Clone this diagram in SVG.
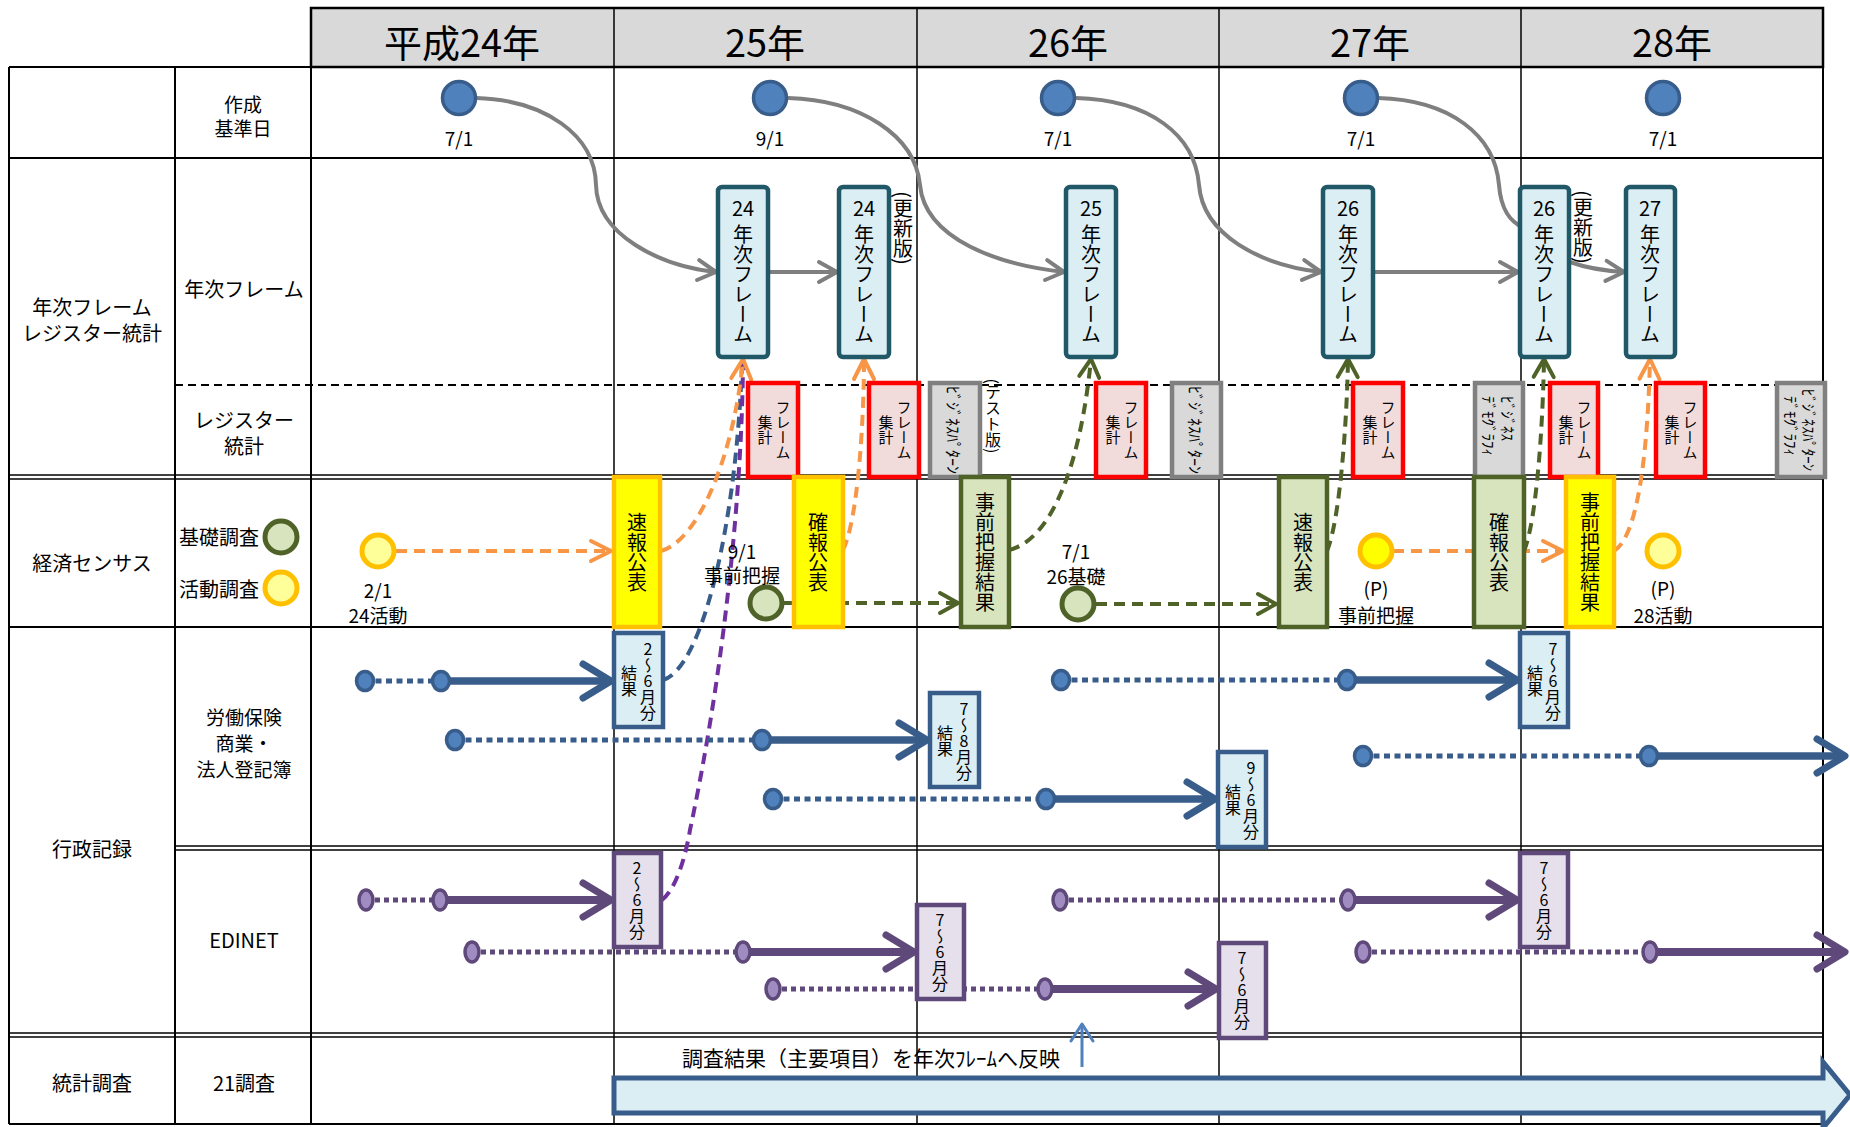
<svg xmlns="http://www.w3.org/2000/svg" width="1850" height="1127" viewBox="0 0 1850 1127">
<defs>
<style>
text{font-family:"Noto Sans CJK JP","Noto Sans",sans-serif;fill:#000;}
.c{text-anchor:middle;dominant-baseline:central;}
.v{writing-mode:vertical-rl;text-anchor:middle;}
.vs{writing-mode:vertical-rl;text-anchor:start;}
.vu{writing-mode:vertical-rl;text-orientation:upright;text-anchor:middle;}
.f38{font-size:38px;}
.f21{font-size:21px;}
.f20{font-size:20px;}
.f19{font-size:19px;}
.f16{font-size:16px;}
.f15{font-size:15px;}
.ln{stroke:#000;stroke-width:2;fill:none;}
.ln1{stroke:#000;stroke-width:1.5;fill:none;}
.dash{stroke:#000;stroke-width:2;stroke-dasharray:8 5;fill:none;}
.fr{fill:#dbeef4;stroke:#215868;stroke-width:4.5;}
.rb{fill:#f2dcdb;stroke:#ff0000;stroke-width:4.5;}
.gb{fill:#d9d9d9;stroke:#808080;stroke-width:4.5;}
.yb{fill:#ffff00;stroke:#ffc000;stroke-width:4.5;}
.grb{fill:#d7e4bd;stroke:#4f6228;stroke-width:4.5;}
.bb{fill:#dbeef4;stroke:#385d8a;stroke-width:4.5;}
.pb{fill:#e5e0ec;stroke:#5f497a;stroke-width:4.5;}
.bc{fill:#4f81bd;stroke:#385d8a;stroke-width:3.5;}
.gc{fill:#d7e4bd;stroke:#4f6228;stroke-width:5;}
.yc{fill:#ffff99;stroke:#ffc000;stroke-width:5;}
.ycb{fill:#ffff00;stroke:#ffc000;stroke-width:5;}
.gray{fill:none;stroke:#7f7f7f;stroke-width:4;}
.ga{marker-end:url(#mGray);}
.od{fill:none;stroke:#f79646;stroke-width:4;stroke-dasharray:11 7;marker-end:url(#mOr);}
.gd{fill:none;stroke:#4f6228;stroke-width:4;stroke-dasharray:11 7;marker-end:url(#mGr);}
.bd{fill:none;stroke:#385d8a;stroke-width:4;stroke-dasharray:11 7;}
.pd{fill:none;stroke:#7030a0;stroke-width:4;stroke-dasharray:11 7;}
.bdot{stroke:#385d8a;stroke-width:5;stroke-dasharray:6 4.5;}
.bsol{stroke:#385d8a;stroke-width:7.5;marker-end:url(#mBl);}
.bsc{fill:#4f81bd;stroke:#385d8a;stroke-width:3.5;}
.pdot{stroke:#5f497a;stroke-width:5;stroke-dasharray:5 4;}
.psol{stroke:#5f497a;stroke-width:8;marker-end:url(#mPu);}
.psc{fill:#a08cc0;stroke:#5f497a;stroke-width:3.5;}
</style>
<marker id="mGray" markerUnits="userSpaceOnUse" markerWidth="30" markerHeight="30" viewBox="-4 -4 30 30" refX="20" refY="11" orient="auto" overflow="visible"><path d="M2,1 L20,11 L2,21" fill="none" stroke="#7f7f7f" stroke-width="4" stroke-linecap="round" stroke-linejoin="round"/></marker>
<marker id="mOr" markerUnits="userSpaceOnUse" markerWidth="30" markerHeight="30" viewBox="-4 -4 30 30" refX="21" refY="11" orient="auto" overflow="visible"><path d="M1,1 L21,11 L1,21" fill="none" stroke="#f79646" stroke-width="4" stroke-linecap="round" stroke-linejoin="round"/></marker>
<marker id="mGr" markerUnits="userSpaceOnUse" markerWidth="30" markerHeight="30" viewBox="-4 -4 30 30" refX="19" refY="11" orient="auto" overflow="visible"><path d="M1,1 L19,11 L1,21" fill="none" stroke="#4f6228" stroke-width="4" stroke-linecap="round" stroke-linejoin="round"/></marker>
<marker id="mBl" markerUnits="userSpaceOnUse" markerWidth="46" markerHeight="46" viewBox="-6 -6 46 46" refX="30" refY="19" orient="auto" overflow="visible"><path d="M2,2 L30,19 L2,36" fill="none" stroke="#385d8a" stroke-width="7" stroke-linecap="round" stroke-linejoin="round"/></marker>
<marker id="mPu" markerUnits="userSpaceOnUse" markerWidth="46" markerHeight="46" viewBox="-6 -6 46 46" refX="30" refY="19" orient="auto" overflow="visible"><path d="M2,2 L30,19 L2,36" fill="none" stroke="#5f497a" stroke-width="7" stroke-linecap="round" stroke-linejoin="round"/></marker>
<marker id="mUp" markerUnits="userSpaceOnUse" markerWidth="30" markerHeight="30" viewBox="-4 -4 30 30" refX="18" refY="12" orient="auto" overflow="visible"><path d="M1,1 L18,12 L1,23" fill="none" stroke="#4f81bd" stroke-width="3" stroke-linecap="round" stroke-linejoin="round"/></marker>
<clipPath id="clipG1"><rect x="932" y="385" width="46" height="90"/></clipPath>
<clipPath id="clipG2"><rect x="1174" y="385" width="45" height="90"/></clipPath>
<clipPath id="clipG4"><rect x="1779" y="385" width="44" height="90"/></clipPath>
</defs>

<g id="grid">
<rect x="311" y="8" width="1512" height="59" fill="#d9d9d9" stroke="#000" stroke-width="2.5"/>
<line class="ln" x1="9" y1="67" x2="9" y2="1124"/>
<line class="ln" x1="175" y1="67" x2="175" y2="1124"/>
<line class="ln" x1="311" y1="67" x2="311" y2="1124"/>
<line class="ln1" x1="614" y1="8" x2="614" y2="1124"/>
<line class="ln1" x1="917" y1="8" x2="917" y2="1124"/>
<line class="ln1" x1="1219" y1="8" x2="1219" y2="1124"/>
<line class="ln1" x1="1521" y1="8" x2="1521" y2="1124"/>
<line class="ln" x1="1823" y1="8" x2="1823" y2="1124" stroke-width="2.5"/>
<line class="ln" x1="9" y1="67" x2="1823" y2="67" stroke-width="2.5"/>
<line class="ln" x1="9" y1="158" x2="1823" y2="158"/>
<line class="dash" x1="175" y1="385" x2="1823" y2="385"/>
<line class="ln1" x1="9" y1="475" x2="1823" y2="475"/>
<line class="ln1" x1="9" y1="479" x2="1823" y2="479"/>
<line class="ln" x1="9" y1="627" x2="1823" y2="627"/>
<line class="ln1" x1="175" y1="846" x2="1823" y2="846"/>
<line class="ln1" x1="175" y1="850" x2="1823" y2="850"/>
<line class="ln1" x1="9" y1="1033" x2="1823" y2="1033"/>
<line class="ln1" x1="9" y1="1037" x2="1823" y2="1037"/>
<line class="ln" x1="9" y1="1124" x2="1823" y2="1124"/>
</g>

<g id="labels">
<text class="c f38" x="462" y="40">平成24年</text>
<text class="c f38" x="765" y="40">25年</text>
<text class="c f38" x="1068" y="40">26年</text>
<text class="c f38" x="1370" y="40">27年</text>
<text class="c f38" x="1672" y="40">28年</text>
<text class="c f19" x="243" y="103">作成</text>
<text class="c f19" x="243" y="127">基準日</text>
<text class="c f20" x="92" y="306">年次フレーム</text>
<text class="c f20" x="92" y="332">レジスター統計</text>
<text class="c f20" x="244" y="288">年次フレーム</text>
<text class="c f20" x="244" y="419">レジスター</text>
<text class="c f20" x="244" y="445">統計</text>
<text class="c f20" x="92" y="562">経済センサス</text>
<text class="c f20" x="219" y="536">基礎調査</text>
<text class="c f20" x="219" y="588">活動調査</text>
<text class="c f20" x="92" y="848">行政記録</text>
<text class="c f19" x="244" y="716">労働保険</text>
<text class="c f19" x="244" y="742">商業・</text>
<text class="c f19" x="244" y="768">法人登記簿</text>
<text class="c f20" x="244" y="939">EDINET</text>
<text class="c f20" x="92" y="1082">統計調査</text>
<text class="c f20" x="244" y="1082">21調査</text>
<text class="f21" x="682" y="1057" dominant-baseline="central">調査結果（主要項目）を年次ﾌﾚｰﾑへ反映</text>
</g>

<g id="connectors">
<path class="gray ga" d="M476,98 C545,100 595,135 596,185 C597,235 660,266 716,272"/>
<path class="gray ga" d="M768,272 H837"/>
<path class="gray ga" d="M788,98 C860,100 915,135 920,185 C925,240 1000,265 1064,272"/>
<path class="gray ga" d="M1076,98 C1150,100 1195,135 1199,185 C1203,235 1260,265 1321,272"/>
<path class="gray ga" d="M1373,272 H1518"/>
<path class="gray" d="M1378,98 C1450,100 1495,135 1499,185 C1501,210 1510,222 1524,228"/>
<path class="gray ga" d="M1570,262 Q1592,270 1624,272"/>
<path class="od" d="M396,551 H611"/>
<path class="gd" d="M784,603 H958"/>
<path class="gd" d="M1096,604 H1276"/>
<path class="od" d="M1393,551 H1563"/>
<path class="bd" d="M663,680 C703,668 737,520 742,362"/>
<path class="pd" d="M662,900 C675,890 685,860 690,830 C722,680 742,500 743,362"/>
<path class="od" d="M661,551 C700,540 735,450 743,359"/>
<path class="od" d="M843,550 C858,520 864,420 864,359"/>
<path class="gd" d="M1009,550 C1050,540 1080,470 1091,359"/>
<path class="gd" d="M1327,551 C1340,520 1347,420 1348,359"/>
<path class="gd" d="M1524,551 C1537,520 1543,420 1544,359"/>
<path class="od" d="M1614,551 C1640,535 1648,440 1650,359"/>
<line class="bdot" x1="365" y1="681" x2="441" y2="681"/><line class="bsol" x1="441" y1="681" x2="611" y2="681"/>
<line class="bdot" x1="455" y1="740" x2="762" y2="740"/><line class="bsol" x1="762" y1="740" x2="927" y2="740"/>
<line class="bdot" x1="773" y1="799" x2="1046" y2="799"/><line class="bsol" x1="1046" y1="799" x2="1215" y2="799"/>
<line class="bdot" x1="1061" y1="680" x2="1347" y2="680"/><line class="bsol" x1="1347" y1="680" x2="1517" y2="680"/>
<line class="bdot" x1="1363" y1="756" x2="1649" y2="756"/><line class="bsol" x1="1649" y1="756" x2="1845" y2="756"/>
<line class="pdot" x1="366" y1="900" x2="440" y2="900"/><line class="psol" x1="440" y1="900" x2="611" y2="900"/>
<line class="pdot" x1="472" y1="952" x2="743" y2="952"/><line class="psol" x1="743" y1="952" x2="914" y2="952"/>
<line class="pdot" x1="773" y1="989" x2="1045" y2="989"/><line class="psol" x1="1045" y1="989" x2="1216" y2="989"/>
<line class="pdot" x1="1060" y1="900" x2="1348" y2="900"/><line class="psol" x1="1348" y1="900" x2="1517" y2="900"/>
<line class="pdot" x1="1363" y1="952" x2="1650" y2="952"/><line class="psol" x1="1650" y1="952" x2="1845" y2="952"/>
<ellipse class="bsc" cx="365" cy="681" rx="8.5" ry="9.5"/><ellipse class="bsc" cx="441" cy="681" rx="8.5" ry="9.5"/>
<ellipse class="bsc" cx="455" cy="740" rx="8.5" ry="9.5"/><ellipse class="bsc" cx="762" cy="740" rx="8.5" ry="9.5"/>
<ellipse class="bsc" cx="773" cy="799" rx="8.5" ry="9.5"/><ellipse class="bsc" cx="1046" cy="799" rx="8.5" ry="9.5"/>
<ellipse class="bsc" cx="1061" cy="680" rx="8.5" ry="9.5"/><ellipse class="bsc" cx="1347" cy="680" rx="8.5" ry="9.5"/>
<ellipse class="bsc" cx="1363" cy="756" rx="8.5" ry="9.5"/><ellipse class="bsc" cx="1649" cy="756" rx="8.5" ry="9.5"/>
<ellipse class="psc" cx="366" cy="900" rx="7" ry="10"/><ellipse class="psc" cx="440" cy="900" rx="7" ry="10"/>
<ellipse class="psc" cx="472" cy="952" rx="7" ry="10"/><ellipse class="psc" cx="743" cy="952" rx="7" ry="10"/>
<ellipse class="psc" cx="773" cy="989" rx="7" ry="10"/><ellipse class="psc" cx="1045" cy="989" rx="7" ry="10"/>
<ellipse class="psc" cx="1060" cy="900" rx="7" ry="10"/><ellipse class="psc" cx="1348" cy="900" rx="7" ry="10"/>
<ellipse class="psc" cx="1363" cy="952" rx="7" ry="10"/><ellipse class="psc" cx="1650" cy="952" rx="7" ry="10"/>
<line x1="1082" y1="1067" x2="1082" y2="1024" stroke="#4f81bd" stroke-width="3" marker-end="url(#mUp)"/>
</g>

<g id="date1"><circle class="bc" cx="459" cy="98" r="16.5"/><text class="c f19" x="459" y="137">7/1</text></g>
<g id="date2"><circle class="bc" cx="770" cy="98" r="16.5"/><text class="c f19" x="770" y="137">9/1</text></g>
<g id="date3"><circle class="bc" cx="1058" cy="98" r="16.5"/><text class="c f19" x="1058" y="137">7/1</text></g>
<g id="date4"><circle class="bc" cx="1361" cy="98" r="16.5"/><text class="c f19" x="1361" y="137">7/1</text></g>
<g id="date5"><circle class="bc" cx="1663" cy="98" r="16.5"/><text class="c f19" x="1663" y="137">7/1</text></g>

<g id="frame24"><rect class="fr" x="718" y="187" width="50" height="170" rx="4"/><text class="c f20" x="743" y="207">24</text><text class="v f20" x="743" y="284">年次フレーム</text></g>
<g id="frame24u"><rect class="fr" x="839" y="187" width="50" height="170" rx="4"/><text class="c f20" x="864" y="207">24</text><text class="v f20" x="864" y="284">年次フレーム</text><text class="v f20" x="903" y="228">(更新版)</text></g>
<g id="frame25"><rect class="fr" x="1066" y="187" width="50" height="170" rx="4"/><text class="c f20" x="1091" y="207">25</text><text class="v f20" x="1091" y="284">年次フレーム</text></g>
<g id="frame26"><rect class="fr" x="1323" y="187" width="50" height="170" rx="4"/><text class="c f20" x="1348" y="207">26</text><text class="v f20" x="1348" y="284">年次フレーム</text></g>
<g id="frame26u"><rect class="fr" x="1520" y="187" width="49" height="170" rx="4"/><text class="c f20" x="1544" y="207">26</text><text class="v f20" x="1544" y="284">年次フレーム</text><text class="v f20" x="1583" y="227">(更新版)</text></g>
<g id="frame27"><rect class="fr" x="1626" y="187" width="49" height="170" rx="4"/><text class="c f20" x="1650" y="207">27</text><text class="v f20" x="1650" y="284">年次フレーム</text></g>

<g id="reg1"><rect class="rb" x="748" y="383" width="50" height="94"/><text class="v f15" x="783" y="430">フレーム</text><text class="v f15" x="765" y="430">集計</text></g>
<g id="reg2"><rect class="rb" x="869" y="383" width="50" height="94"/><text class="v f15" x="904" y="430">フレーム</text><text class="v f15" x="886" y="430">集計</text></g>
<g id="reg3"><rect class="rb" x="1096" y="383" width="50" height="94"/><text class="v f15" x="1131" y="430">フレーム</text><text class="v f15" x="1113" y="430">集計</text></g>
<g id="reg4"><rect class="rb" x="1353" y="383" width="50" height="94"/><text class="v f15" x="1388" y="430">フレーム</text><text class="v f15" x="1370" y="430">集計</text></g>
<g id="reg5"><rect class="rb" x="1550" y="383" width="48" height="94"/><text class="v f15" x="1584" y="430">フレーム</text><text class="v f15" x="1566" y="430">集計</text></g>
<g id="reg6"><rect class="rb" x="1656" y="383" width="49" height="94"/><text class="v f15" x="1690" y="430">フレーム</text><text class="v f15" x="1672" y="430">集計</text></g>

<g id="bp1"><rect class="gb" x="930" y="383" width="50" height="94"/><text class="v f16" x="954" y="430" clip-path="url(#clipG1)">ﾋﾞｼﾞﾈｽﾊﾟﾀｰﾝ</text><text class="v f16" x="993" y="416">(テスト版)</text></g>
<g id="bp2"><rect class="gb" x="1172" y="383" width="49" height="94"/><text class="v f16" x="1196" y="430" clip-path="url(#clipG2)">ﾋﾞｼﾞﾈｽﾊﾟﾀｰﾝ</text></g>
<g id="bd1"><rect class="gb" x="1475" y="383" width="48" height="94"/><text class="vs f15" x="1508" y="396">ﾋﾞｼﾞﾈｽ</text><text class="vs f15" x="1489" y="396">ﾃﾞﾓｸﾞﾗﾌｨ</text></g>
<g id="bpd"><rect class="gb" x="1777" y="383" width="48" height="94"/><text class="v f15" x="1809" y="430" clip-path="url(#clipG4)">ﾋﾞｼﾞﾈｽﾊﾟﾀｰﾝ</text><text class="vs f15" x="1791" y="396">ﾃﾞﾓｸﾞﾗﾌｨ</text></g>

<g id="legendBase"><circle class="gc" cx="281" cy="537" r="16"/></g>
<g id="legendAct"><circle class="yc" cx="281" cy="588" r="16"/></g>
<g id="act24"><circle class="yc" cx="378" cy="551" r="16"/><text class="c f19" x="378" y="589">2/1</text><text class="c f19" x="378" y="614">24活動</text></g>
<g id="sokuho25"><rect class="yb" x="614" y="477" width="46" height="150"/><text class="v f20" x="637" y="552">速報公表</text></g>
<g id="pre25"><circle class="gc" cx="766" cy="603" r="16"/><text class="c f19" x="742" y="550">9/1</text><text class="c f19" x="742" y="574">事前把握</text></g>
<g id="kakuho25"><rect class="yb" x="794" y="477" width="49" height="150"/><text class="v f20" x="818" y="552">確報公表</text></g>
<g id="preRes26"><rect class="grb" x="961" y="477" width="48" height="150"/><text class="v f20" x="985" y="552">事前把握結果</text></g>
<g id="base26"><circle class="gc" cx="1078" cy="604" r="16"/><text class="c f19" x="1076" y="550">7/1</text><text class="c f19" x="1076" y="575">26基礎</text></g>
<g id="sokuho27"><rect class="grb" x="1279" y="477" width="48" height="150"/><text class="v f20" x="1303" y="552">速報公表</text></g>
<g id="pre27"><circle class="ycb" cx="1376" cy="551" r="16"/><text class="c f19" x="1376" y="587">(P)</text><text class="c f19" x="1376" y="614">事前把握</text></g>
<g id="kakuho28"><rect class="grb" x="1474" y="477" width="50" height="150"/><text class="v f20" x="1499" y="552">確報公表</text></g>
<g id="preRes28"><rect class="yb" x="1566" y="477" width="48" height="150"/><text class="v f20" x="1590" y="552">事前把握結果</text></g>
<g id="act28"><circle class="yc" cx="1663" cy="551" r="16"/><text class="c f19" x="1663" y="587">(P)</text><text class="c f19" x="1663" y="614">28活動</text></g>

<g id="lab1"><rect class="bb" x="614" y="633" width="49" height="94"/><text class="vu f16" x="648" y="681">2～6月分</text><text class="v f16" x="629" y="681">結果</text></g>
<g id="lab2"><rect class="bb" x="930" y="693" width="49" height="94"/><text class="vu f16" x="964" y="741">7～8月分</text><text class="v f16" x="945" y="741">結果</text></g>
<g id="lab3"><rect class="bb" x="1218" y="752" width="48" height="95"/><text class="vu f16" x="1251" y="800">9～6月分</text><text class="v f16" x="1233" y="800">結果</text></g>
<g id="lab4"><rect class="bb" x="1520" y="633" width="48" height="94"/><text class="vu f16" x="1553" y="681">7～6月分</text><text class="v f16" x="1535" y="681">結果</text></g>

<g id="ed1"><rect class="pb" x="614" y="853" width="47" height="94"/><text class="vu f16" x="637" y="900">2～6月分</text></g>
<g id="ed2"><rect class="pb" x="917" y="905" width="47" height="94"/><text class="vu f16" x="940" y="952">7～6月分</text></g>
<g id="ed3"><rect class="pb" x="1219" y="943" width="47" height="95"/><text class="vu f16" x="1242" y="990">7～6月分</text></g>
<g id="ed4"><rect class="pb" x="1520" y="853" width="48" height="94"/><text class="vu f16" x="1544" y="900">7～6月分</text></g>

<g id="survey21"><path d="M614,1078 H1823 V1062 L1850,1095 L1823,1128 V1113 H614 Z" fill="#dbeef4" stroke="#385d8a" stroke-width="5"/></g>
</svg>
